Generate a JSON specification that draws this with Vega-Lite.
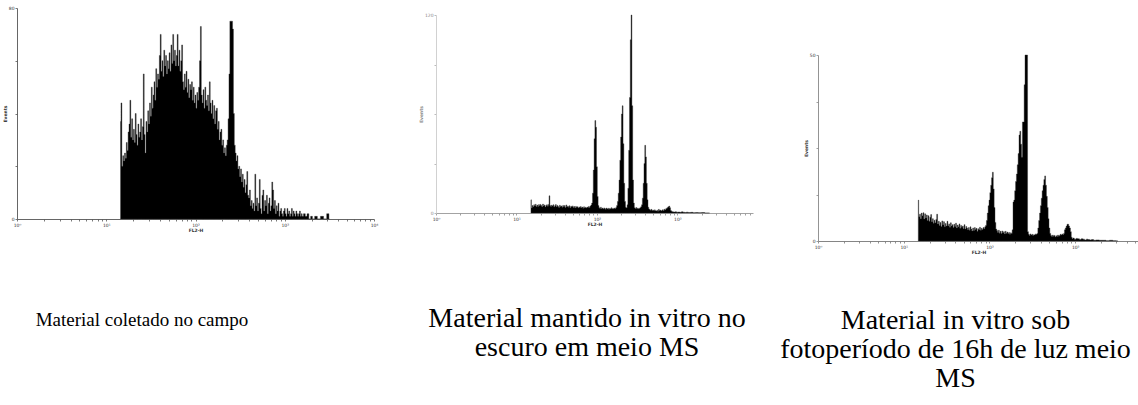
{
  "$schema": "https://vega.github.io/schema/vega-lite/v6.json",
  "background": "white",
  "padding": {"left": 2, "top": 4, "right": 0, "bottom": 0},
  "spacing": 5,
  "datasets": {
    "p1": [
      {"logFL2H":1.16,"events":37},{"logFL2H":1.17,"events":44},{"logFL2H":1.18,"events":20},{"logFL2H":1.19,"events":24},{"logFL2H":1.20,"events":22},{"logFL2H":1.21,"events":25},{"logFL2H":1.22,"events":23},{"logFL2H":1.23,"events":29},{"logFL2H":1.24,"events":26},{"logFL2H":1.25,"events":33},
      {"logFL2H":1.26,"events":36},{"logFL2H":1.27,"events":45},{"logFL2H":1.28,"events":31},{"logFL2H":1.29,"events":38},{"logFL2H":1.30,"events":30},{"logFL2H":1.31,"events":34},{"logFL2H":1.32,"events":29},{"logFL2H":1.33,"events":40},{"logFL2H":1.34,"events":32},{"logFL2H":1.35,"events":28},
      {"logFL2H":1.36,"events":36},{"logFL2H":1.37,"events":31},{"logFL2H":1.38,"events":33},{"logFL2H":1.39,"events":38},{"logFL2H":1.40,"events":30},{"logFL2H":1.41,"events":35},{"logFL2H":1.42,"events":55},{"logFL2H":1.43,"events":32},{"logFL2H":1.44,"events":25},{"logFL2H":1.45,"events":37},
      {"logFL2H":1.46,"events":33},{"logFL2H":1.47,"events":41},{"logFL2H":1.48,"events":36},{"logFL2H":1.49,"events":44},{"logFL2H":1.50,"events":39},{"logFL2H":1.51,"events":50},{"logFL2H":1.52,"events":42},{"logFL2H":1.53,"events":47},{"logFL2H":1.54,"events":52},{"logFL2H":1.55,"events":45},
      {"logFL2H":1.56,"events":57},{"logFL2H":1.57,"events":50},{"logFL2H":1.58,"events":55},{"logFL2H":1.59,"events":53},{"logFL2H":1.60,"events":62},{"logFL2H":1.61,"events":70},{"logFL2H":1.62,"events":56},{"logFL2H":1.63,"events":60},{"logFL2H":1.64,"events":54},{"logFL2H":1.65,"events":64},
      {"logFL2H":1.66,"events":58},{"logFL2H":1.67,"events":62},{"logFL2H":1.68,"events":55},{"logFL2H":1.69,"events":60},{"logFL2H":1.70,"events":57},{"logFL2H":1.71,"events":63},{"logFL2H":1.72,"events":56},{"logFL2H":1.73,"events":66},{"logFL2H":1.74,"events":59},{"logFL2H":1.75,"events":70},
      {"logFL2H":1.76,"events":60},{"logFL2H":1.77,"events":64},{"logFL2H":1.78,"events":58},{"logFL2H":1.79,"events":62},{"logFL2H":1.80,"events":70},{"logFL2H":1.81,"events":58},{"logFL2H":1.82,"events":64},{"logFL2H":1.83,"events":56},{"logFL2H":1.84,"events":60},{"logFL2H":1.85,"events":66},
      {"logFL2H":1.86,"events":52},{"logFL2H":1.87,"events":49},{"logFL2H":1.88,"events":55},{"logFL2H":1.89,"events":50},{"logFL2H":1.90,"events":56},{"logFL2H":1.91,"events":48},{"logFL2H":1.92,"events":53},{"logFL2H":1.93,"events":46},{"logFL2H":1.94,"events":51},{"logFL2H":1.95,"events":49},
      {"logFL2H":1.96,"events":52},{"logFL2H":1.97,"events":45},{"logFL2H":1.98,"events":50},{"logFL2H":1.99,"events":44},{"logFL2H":2.00,"events":47},{"logFL2H":2.01,"events":42},{"logFL2H":2.02,"events":48},{"logFL2H":2.03,"events":45},{"logFL2H":2.04,"events":50},{"logFL2H":2.05,"events":60},
      {"logFL2H":2.06,"events":73},{"logFL2H":2.07,"events":47},{"logFL2H":2.08,"events":44},{"logFL2H":2.09,"events":49},{"logFL2H":2.10,"events":42},{"logFL2H":2.11,"events":50},{"logFL2H":2.12,"events":45},{"logFL2H":2.13,"events":43},{"logFL2H":2.14,"events":47},{"logFL2H":2.15,"events":41},
      {"logFL2H":2.16,"events":52},{"logFL2H":2.17,"events":44},{"logFL2H":2.18,"events":40},{"logFL2H":2.19,"events":45},{"logFL2H":2.20,"events":38},{"logFL2H":2.21,"events":43},{"logFL2H":2.22,"events":36},{"logFL2H":2.23,"events":41},{"logFL2H":2.24,"events":42},{"logFL2H":2.25,"events":34},
      {"logFL2H":2.26,"events":37},{"logFL2H":2.27,"events":30},{"logFL2H":2.28,"events":33},{"logFL2H":2.29,"events":34},{"logFL2H":2.30,"events":28},{"logFL2H":2.31,"events":30},{"logFL2H":2.32,"events":25},{"logFL2H":2.33,"events":27},{"logFL2H":2.34,"events":24},{"logFL2H":2.35,"events":28},
      {"logFL2H":2.36,"events":30},{"logFL2H":2.37,"events":38},{"logFL2H":2.38,"events":55},{"logFL2H":2.39,"events":75},{"logFL2H":2.40,"events":75},{"logFL2H":2.41,"events":75},{"logFL2H":2.42,"events":72},{"logFL2H":2.43,"events":40},{"logFL2H":2.44,"events":28},{"logFL2H":2.45,"events":25},
      {"logFL2H":2.46,"events":22},{"logFL2H":2.47,"events":24},{"logFL2H":2.48,"events":19},{"logFL2H":2.49,"events":20},{"logFL2H":2.50,"events":16},{"logFL2H":2.51,"events":19},{"logFL2H":2.52,"events":14},{"logFL2H":2.53,"events":17},{"logFL2H":2.54,"events":12},{"logFL2H":2.55,"events":15},
      {"logFL2H":2.56,"events":10},{"logFL2H":2.57,"events":13},{"logFL2H":2.58,"events":18},{"logFL2H":2.59,"events":9},{"logFL2H":2.60,"events":8},{"logFL2H":2.61,"events":11},{"logFL2H":2.62,"events":5},{"logFL2H":2.63,"events":7},{"logFL2H":2.64,"events":4},{"logFL2H":2.65,"events":6},
      {"logFL2H":2.66,"events":3},{"logFL2H":2.67,"events":17},{"logFL2H":2.68,"events":5},{"logFL2H":2.69,"events":8},{"logFL2H":2.70,"events":3},{"logFL2H":2.71,"events":6},{"logFL2H":2.72,"events":15},{"logFL2H":2.73,"events":4},{"logFL2H":2.74,"events":2},{"logFL2H":2.75,"events":9},
      {"logFL2H":2.76,"events":11},{"logFL2H":2.77,"events":3},{"logFL2H":2.78,"events":7},{"logFL2H":2.79,"events":5},{"logFL2H":2.80,"events":9},{"logFL2H":2.81,"events":2},{"logFL2H":2.82,"events":6},{"logFL2H":2.83,"events":8},{"logFL2H":2.84,"events":3},{"logFL2H":2.85,"events":5},
      {"logFL2H":2.86,"events":14},{"logFL2H":2.87,"events":11},{"logFL2H":2.88,"events":4},{"logFL2H":2.89,"events":7},{"logFL2H":2.90,"events":2},{"logFL2H":2.91,"events":5},{"logFL2H":2.92,"events":3},{"logFL2H":2.93,"events":6},{"logFL2H":2.94,"events":1},{"logFL2H":2.95,"events":3},
      {"logFL2H":2.96,"events":4},{"logFL2H":2.97,"events":2},{"logFL2H":2.98,"events":1},{"logFL2H":2.99,"events":3},{"logFL2H":3.00,"events":4},{"logFL2H":3.01,"events":2},{"logFL2H":3.02,"events":1},{"logFL2H":3.03,"events":4},{"logFL2H":3.04,"events":2},{"logFL2H":3.05,"events":3},
      {"logFL2H":3.06,"events":1},{"logFL2H":3.07,"events":2},{"logFL2H":3.08,"events":4},{"logFL2H":3.09,"events":1},{"logFL2H":3.10,"events":3},{"logFL2H":3.11,"events":2},{"logFL2H":3.12,"events":1},{"logFL2H":3.13,"events":3},{"logFL2H":3.14,"events":2},{"logFL2H":3.15,"events":1},
      {"logFL2H":3.16,"events":2},{"logFL2H":3.17,"events":3},{"logFL2H":3.18,"events":1},{"logFL2H":3.19,"events":2},{"logFL2H":3.20,"events":1},{"logFL2H":3.22,"events":2},{"logFL2H":3.24,"events":1},{"logFL2H":3.26,"events":2},{"logFL2H":3.28,"events":0},{"logFL2H":3.30,"events":1},
      {"logFL2H":3.32,"events":0},{"logFL2H":3.35,"events":1},{"logFL2H":3.38,"events":0},{"logFL2H":3.42,"events":1},{"logFL2H":3.45,"events":0},{"logFL2H":3.49,"events":2},{"logFL2H":3.50,"events":0}
    ],
    "p2": [
      {"logFL2H":1.18,"events":8},{"logFL2H":1.19,"events":3},{"logFL2H":1.20,"events":4.5},{"logFL2H":1.21,"events":3.8},{"logFL2H":1.22,"events":5},{"logFL2H":1.23,"events":4.2},{"logFL2H":1.24,"events":5.3},{"logFL2H":1.25,"events":4},{"logFL2H":1.26,"events":4.8},{"logFL2H":1.27,"events":3.9},
      {"logFL2H":1.28,"events":5.1},{"logFL2H":1.29,"events":4.4},{"logFL2H":1.30,"events":5.2},{"logFL2H":1.31,"events":4.6},{"logFL2H":1.32,"events":3.8},{"logFL2H":1.33,"events":5.4},{"logFL2H":1.34,"events":4.3},{"logFL2H":1.35,"events":4.9},{"logFL2H":1.36,"events":3.7},{"logFL2H":1.37,"events":4.6},
      {"logFL2H":1.38,"events":5.0},{"logFL2H":1.39,"events":4.1},{"logFL2H":1.40,"events":5.2},{"logFL2H":1.41,"events":10.4},{"logFL2H":1.42,"events":4.5},{"logFL2H":1.43,"events":3.9},{"logFL2H":1.44,"events":4.8},{"logFL2H":1.45,"events":4.2},{"logFL2H":1.46,"events":5.0},{"logFL2H":1.47,"events":3.6},
      {"logFL2H":1.48,"events":4.4},{"logFL2H":1.49,"events":5.1},{"logFL2H":1.50,"events":3.8},{"logFL2H":1.51,"events":4.6},{"logFL2H":1.52,"events":4.0},{"logFL2H":1.53,"events":3.4},{"logFL2H":1.54,"events":4.7},{"logFL2H":1.55,"events":3.9},{"logFL2H":1.56,"events":4.3},{"logFL2H":1.57,"events":3.5},
      {"logFL2H":1.58,"events":4.6},{"logFL2H":1.59,"events":3.8},{"logFL2H":1.60,"events":4.5},{"logFL2H":1.61,"events":3.3},{"logFL2H":1.62,"events":4.9},{"logFL2H":1.63,"events":3.7},{"logFL2H":1.64,"events":4.2},{"logFL2H":1.65,"events":3.5},{"logFL2H":1.66,"events":4.4},{"logFL2H":1.67,"events":3.2},
      {"logFL2H":1.68,"events":4.1},{"logFL2H":1.69,"events":3.6},{"logFL2H":1.70,"events":4.3},{"logFL2H":1.71,"events":3.4},{"logFL2H":1.72,"events":3.9},{"logFL2H":1.73,"events":3.1},{"logFL2H":1.74,"events":4.0},{"logFL2H":1.75,"events":3.5},{"logFL2H":1.76,"events":3.8},{"logFL2H":1.77,"events":3.0},
      {"logFL2H":1.78,"events":3.7},{"logFL2H":1.79,"events":3.3},{"logFL2H":1.80,"events":3.9},{"logFL2H":1.81,"events":3.2},{"logFL2H":1.82,"events":3.6},{"logFL2H":1.83,"events":2.9},{"logFL2H":1.84,"events":3.8},{"logFL2H":1.85,"events":3.1},{"logFL2H":1.86,"events":3.5},{"logFL2H":1.87,"events":3.0},
      {"logFL2H":1.88,"events":3.6},{"logFL2H":1.89,"events":3.3},{"logFL2H":1.90,"events":4.0},{"logFL2H":1.91,"events":3.4},{"logFL2H":1.92,"events":4.2},{"logFL2H":1.93,"events":4.8},{"logFL2H":1.94,"events":6},{"logFL2H":1.95,"events":12},{"logFL2H":1.96,"events":26},{"logFL2H":1.97,"events":45},
      {"logFL2H":1.98,"events":56},{"logFL2H":1.99,"events":52},{"logFL2H":2.00,"events":28},{"logFL2H":2.01,"events":10},{"logFL2H":2.02,"events":4.5},{"logFL2H":2.03,"events":3.2},{"logFL2H":2.04,"events":2.8},{"logFL2H":2.05,"events":3.5},{"logFL2H":2.06,"events":2.6},{"logFL2H":2.07,"events":3.0},
      {"logFL2H":2.08,"events":2.4},{"logFL2H":2.09,"events":3.1},{"logFL2H":2.10,"events":2.7},{"logFL2H":2.11,"events":2.2},{"logFL2H":2.12,"events":3.0},{"logFL2H":2.13,"events":2.5},{"logFL2H":2.14,"events":2.9},{"logFL2H":2.15,"events":2.3},{"logFL2H":2.16,"events":2.8},{"logFL2H":2.17,"events":2.6},
      {"logFL2H":2.18,"events":3.2},{"logFL2H":2.19,"events":2.5},{"logFL2H":2.20,"events":2.9},{"logFL2H":2.21,"events":2.4},{"logFL2H":2.22,"events":3.0},{"logFL2H":2.23,"events":2.7},{"logFL2H":2.24,"events":3.4},{"logFL2H":2.25,"events":4.5},{"logFL2H":2.26,"events":7},{"logFL2H":2.27,"events":12},
      {"logFL2H":2.28,"events":20},{"logFL2H":2.29,"events":32},{"logFL2H":2.30,"events":46},{"logFL2H":2.31,"events":60},{"logFL2H":2.32,"events":65},{"logFL2H":2.33,"events":42},{"logFL2H":2.34,"events":18},{"logFL2H":2.35,"events":7},{"logFL2H":2.36,"events":3.5},{"logFL2H":2.37,"events":3.0},
      {"logFL2H":2.38,"events":5},{"logFL2H":2.39,"events":15},{"logFL2H":2.40,"events":38},{"logFL2H":2.41,"events":70},{"logFL2H":2.42,"events":105},{"logFL2H":2.43,"events":120},{"logFL2H":2.44,"events":65},{"logFL2H":2.45,"events":20},{"logFL2H":2.46,"events":6},{"logFL2H":2.47,"events":3.2},
      {"logFL2H":2.48,"events":2.8},{"logFL2H":2.49,"events":3.3},{"logFL2H":2.50,"events":2.6},{"logFL2H":2.51,"events":3.0},{"logFL2H":2.52,"events":2.5},{"logFL2H":2.53,"events":2.9},{"logFL2H":2.54,"events":3.2},{"logFL2H":2.55,"events":3.8},{"logFL2H":2.56,"events":5},{"logFL2H":2.57,"events":9},
      {"logFL2H":2.58,"events":18},{"logFL2H":2.59,"events":30},{"logFL2H":2.60,"events":41},{"logFL2H":2.61,"events":34},{"logFL2H":2.62,"events":18},{"logFL2H":2.63,"events":8},{"logFL2H":2.64,"events":3.5},{"logFL2H":2.65,"events":2.4},{"logFL2H":2.66,"events":2.0},{"logFL2H":2.67,"events":1.6},
      {"logFL2H":2.68,"events":2.2},{"logFL2H":2.69,"events":1.5},{"logFL2H":2.70,"events":1.8},{"logFL2H":2.71,"events":1.3},{"logFL2H":2.72,"events":1.9},{"logFL2H":2.73,"events":1.4},{"logFL2H":2.74,"events":1.2},{"logFL2H":2.75,"events":1.7},{"logFL2H":2.76,"events":1.1},{"logFL2H":2.77,"events":2.2},
      {"logFL2H":2.78,"events":1.5},{"logFL2H":2.79,"events":1.8},{"logFL2H":2.80,"events":1.2},{"logFL2H":2.81,"events":1.6},{"logFL2H":2.82,"events":2.0},{"logFL2H":2.83,"events":1.4},{"logFL2H":2.84,"events":2.3},{"logFL2H":2.85,"events":1.8},{"logFL2H":2.86,"events":2.6},{"logFL2H":2.87,"events":2.9},
      {"logFL2H":2.88,"events":3.4},{"logFL2H":2.89,"events":3.8},{"logFL2H":2.90,"events":4.2},{"logFL2H":2.91,"events":3.2},{"logFL2H":2.92,"events":1.5},{"logFL2H":2.93,"events":1.0},{"logFL2H":2.94,"events":0.8},{"logFL2H":2.96,"events":0.6},{"logFL2H":2.98,"events":0.7},{"logFL2H":3.00,"events":0.5},
      {"logFL2H":3.02,"events":0.6},{"logFL2H":3.04,"events":0.4},{"logFL2H":3.06,"events":0.7},{"logFL2H":3.08,"events":0.5},{"logFL2H":3.10,"events":0.3},{"logFL2H":3.12,"events":0.5},{"logFL2H":3.15,"events":0.3},{"logFL2H":3.18,"events":0.4},{"logFL2H":3.21,"events":0.2},{"logFL2H":3.24,"events":0.3},
      {"logFL2H":3.28,"events":0.2},{"logFL2H":3.32,"events":0.3},{"logFL2H":3.36,"events":0},{"logFL2H":3.40,"events":0}
    ],
    "p3": [
      {"logFL2H":1.17,"events":11},{"logFL2H":1.18,"events":6.5},{"logFL2H":1.19,"events":7.2},{"logFL2H":1.20,"events":6.0},{"logFL2H":1.21,"events":7.5},{"logFL2H":1.22,"events":6.8},{"logFL2H":1.23,"events":7.6},{"logFL2H":1.24,"events":5.9},{"logFL2H":1.25,"events":7.3},{"logFL2H":1.26,"events":6.2},
      {"logFL2H":1.27,"events":7.0},{"logFL2H":1.28,"events":5.5},{"logFL2H":1.29,"events":6.8},{"logFL2H":1.30,"events":5.3},{"logFL2H":1.31,"events":6.4},{"logFL2H":1.32,"events":7.1},{"logFL2H":1.33,"events":5.2},{"logFL2H":1.34,"events":6.0},{"logFL2H":1.35,"events":4.8},{"logFL2H":1.36,"events":5.6},
      {"logFL2H":1.37,"events":4.9},{"logFL2H":1.38,"events":5.8},{"logFL2H":1.39,"events":7.2},{"logFL2H":1.40,"events":4.6},{"logFL2H":1.41,"events":5.3},{"logFL2H":1.42,"events":4.2},{"logFL2H":1.43,"events":5.0},{"logFL2H":1.44,"events":3.9},{"logFL2H":1.45,"events":5.4},{"logFL2H":1.46,"events":4.4},
      {"logFL2H":1.47,"events":5.2},{"logFL2H":1.48,"events":3.8},{"logFL2H":1.49,"events":4.7},{"logFL2H":1.50,"events":4.0},{"logFL2H":1.51,"events":5.3},{"logFL2H":1.52,"events":4.1},{"logFL2H":1.53,"events":4.6},{"logFL2H":1.54,"events":3.7},{"logFL2H":1.55,"events":4.9},{"logFL2H":1.56,"events":4.0},
      {"logFL2H":1.57,"events":4.4},{"logFL2H":1.58,"events":3.6},{"logFL2H":1.59,"events":4.5},{"logFL2H":1.60,"events":3.9},{"logFL2H":1.61,"events":4.8},{"logFL2H":1.62,"events":3.5},{"logFL2H":1.63,"events":4.3},{"logFL2H":1.64,"events":3.8},{"logFL2H":1.65,"events":4.6},{"logFL2H":1.66,"events":3.4},
      {"logFL2H":1.67,"events":4.2},{"logFL2H":1.68,"events":3.7},{"logFL2H":1.69,"events":4.0},{"logFL2H":1.70,"events":3.3},{"logFL2H":1.71,"events":4.4},{"logFL2H":1.72,"events":3.2},{"logFL2H":1.73,"events":3.9},{"logFL2H":1.74,"events":3.5},{"logFL2H":1.75,"events":3.0},{"logFL2H":1.76,"events":3.6},
      {"logFL2H":1.77,"events":2.9},{"logFL2H":1.78,"events":3.8},{"logFL2H":1.79,"events":3.2},{"logFL2H":1.80,"events":2.7},{"logFL2H":1.81,"events":3.5},{"logFL2H":1.82,"events":2.8},{"logFL2H":1.83,"events":3.6},{"logFL2H":1.84,"events":3.1},{"logFL2H":1.85,"events":3.4},{"logFL2H":1.86,"events":2.6},
      {"logFL2H":1.87,"events":3.3},{"logFL2H":1.88,"events":3.0},{"logFL2H":1.89,"events":3.7},{"logFL2H":1.90,"events":2.9},{"logFL2H":1.91,"events":3.4},{"logFL2H":1.92,"events":3.1},{"logFL2H":1.93,"events":3.6},{"logFL2H":1.94,"events":3.3},{"logFL2H":1.95,"events":3.8},{"logFL2H":1.96,"events":4.2},
      {"logFL2H":1.97,"events":5.5},{"logFL2H":1.98,"events":7.5},{"logFL2H":1.99,"events":9.5},{"logFL2H":2.00,"events":11},{"logFL2H":2.01,"events":13},{"logFL2H":2.02,"events":15},{"logFL2H":2.03,"events":17},{"logFL2H":2.04,"events":18.5},{"logFL2H":2.05,"events":14},{"logFL2H":2.06,"events":9},
      {"logFL2H":2.07,"events":5},{"logFL2H":2.08,"events":3.2},{"logFL2H":2.09,"events":2.8},{"logFL2H":2.10,"events":2.3},{"logFL2H":2.11,"events":2.9},{"logFL2H":2.12,"events":2.1},{"logFL2H":2.13,"events":2.6},{"logFL2H":2.14,"events":2.0},{"logFL2H":2.15,"events":2.7},{"logFL2H":2.16,"events":2.2},
      {"logFL2H":2.17,"events":2.5},{"logFL2H":2.18,"events":1.9},{"logFL2H":2.19,"events":2.6},{"logFL2H":2.20,"events":2.1},{"logFL2H":2.21,"events":2.4},{"logFL2H":2.22,"events":2.0},{"logFL2H":2.23,"events":2.3},{"logFL2H":2.24,"events":1.8},{"logFL2H":2.25,"events":2.2},{"logFL2H":2.26,"events":2.0},
      {"logFL2H":2.27,"events":3.0},{"logFL2H":2.28,"events":10.5},{"logFL2H":2.29,"events":11},{"logFL2H":2.30,"events":13.5},{"logFL2H":2.31,"events":16},{"logFL2H":2.32,"events":18},{"logFL2H":2.33,"events":20.5},{"logFL2H":2.34,"events":23.5},{"logFL2H":2.35,"events":28.5},{"logFL2H":2.36,"events":29.5},
      {"logFL2H":2.37,"events":26},{"logFL2H":2.38,"events":22.5},{"logFL2H":2.39,"events":32},{"logFL2H":2.40,"events":32},{"logFL2H":2.41,"events":42},{"logFL2H":2.42,"events":50},{"logFL2H":2.43,"events":50},{"logFL2H":2.44,"events":50},{"logFL2H":2.45,"events":2.5},{"logFL2H":2.46,"events":1.8},
      {"logFL2H":2.47,"events":1.5},{"logFL2H":2.48,"events":1.9},{"logFL2H":2.49,"events":1.6},{"logFL2H":2.50,"events":1.8},{"logFL2H":2.51,"events":1.5},{"logFL2H":2.52,"events":1.7},{"logFL2H":2.53,"events":1.6},{"logFL2H":2.54,"events":1.9},{"logFL2H":2.55,"events":1.8},{"logFL2H":2.56,"events":2.0},
      {"logFL2H":2.57,"events":3.5},{"logFL2H":2.58,"events":5.5},{"logFL2H":2.59,"events":7.5},{"logFL2H":2.60,"events":9.5},{"logFL2H":2.61,"events":11.5},{"logFL2H":2.62,"events":13.5},{"logFL2H":2.63,"events":15},{"logFL2H":2.64,"events":16.5},{"logFL2H":2.65,"events":17.5},{"logFL2H":2.66,"events":15},
      {"logFL2H":2.67,"events":12},{"logFL2H":2.68,"events":9},{"logFL2H":2.69,"events":6},{"logFL2H":2.70,"events":3.5},{"logFL2H":2.71,"events":2.0},{"logFL2H":2.72,"events":1.5},{"logFL2H":2.73,"events":1.2},{"logFL2H":2.74,"events":1.6},{"logFL2H":2.75,"events":1.3},{"logFL2H":2.76,"events":1.5},
      {"logFL2H":2.77,"events":1.1},{"logFL2H":2.78,"events":1.4},{"logFL2H":2.79,"events":1.2},{"logFL2H":2.80,"events":1.6},{"logFL2H":2.81,"events":1.3},{"logFL2H":2.82,"events":1.5},{"logFL2H":2.83,"events":1.8},{"logFL2H":2.84,"events":1.6},{"logFL2H":2.85,"events":1.9},{"logFL2H":2.86,"events":1.7},
      {"logFL2H":2.87,"events":2.0},{"logFL2H":2.88,"events":3.0},{"logFL2H":2.89,"events":3.5},{"logFL2H":2.90,"events":4.0},{"logFL2H":2.91,"events":4.5},{"logFL2H":2.92,"events":4.5},{"logFL2H":2.93,"events":4.0},{"logFL2H":2.94,"events":3.5},{"logFL2H":2.95,"events":2.5},{"logFL2H":2.96,"events":1.0},
      {"logFL2H":2.97,"events":0.6},{"logFL2H":2.98,"events":0.8},{"logFL2H":3.00,"events":0.5},{"logFL2H":3.02,"events":0.7},{"logFL2H":3.04,"events":0.6},{"logFL2H":3.06,"events":0.4},{"logFL2H":3.08,"events":0.6},{"logFL2H":3.10,"events":0.5},{"logFL2H":3.12,"events":0.3},{"logFL2H":3.14,"events":0.5},
      {"logFL2H":3.16,"events":0.4},{"logFL2H":3.18,"events":0.3},{"logFL2H":3.20,"events":0.4},{"logFL2H":3.23,"events":0.2},{"logFL2H":3.26,"events":0.3},{"logFL2H":3.30,"events":0.2},{"logFL2H":3.34,"events":0.2},{"logFL2H":3.38,"events":0.1},{"logFL2H":3.42,"events":0.2},{"logFL2H":3.46,"events":0.1},
      {"logFL2H":3.50,"events":0}
    ]
  },
  "hconcat": [
    {
      "spacing": 0,
      "vconcat": [
        {"width": 396, "height": 1, "data": {"values": []}, "mark": {"type": "point"}},
        {
          "width": 357, "height": 211,
          "data": {"name": "p1"},
          "mark": {"type": "area", "interpolate": "step", "color": "black", "stroke": "#333", "strokeWidth": 0.4},
          "encoding": {
            "x": {"field": "logFL2H", "type": "quantitative", "scale": {"domain": [0, 4], "nice": false, "zero": false},
              "axis": {"title": "FL2-H", "domainColor": "#555", "tickColor": "#555",
                "values": [0,0.30103,0.47712,0.60206,0.69897,0.77815,0.8451,0.90309,0.95424,1,1.30103,1.47712,1.60206,1.69897,1.77815,1.8451,1.90309,1.95424,2,2.30103,2.47712,2.60206,2.69897,2.77815,2.8451,2.90309,2.95424,3,3.30103,3.47712,3.60206,3.69897,3.77815,3.8451,3.90309,3.95424,4],
                "labelExpr": "datum.value == 0 ? '10⁰' : datum.value == 1 ? '10¹' : datum.value == 2 ? '10²' : datum.value == 3 ? '10³' : datum.value == 4 ? '10⁴' : ''"}},
            "y": {"field": "events", "type": "quantitative", "scale": {"domain": [0, 80], "nice": false},
              "axis": {"title": "Events", "domainColor": "#555", "tickColor": "#555", "values": [0, 20, 40, 60, 80],
                "labelExpr": "datum.value == 0 || datum.value == 80 ? datum.label : ''"}}
          },
          "title": {"text": "Material coletado no campo", "dx": -53.5, "offset": 78.5, "fontSize": 19}
        }
      ]
    },
    {
      "spacing": 0,
      "vconcat": [
        {"width": 339, "height": 8, "data": {"values": []}, "mark": {"type": "point"}},
        {
          "width": 317, "height": 198,
          "data": {"name": "p2"},
          "mark": {"type": "area", "interpolate": "step", "color": "black", "stroke": "#333", "strokeWidth": 0.4},
          "encoding": {
            "x": {"field": "logFL2H", "type": "quantitative", "scale": {"domain": [0, 3.94], "nice": false, "zero": false},
              "axis": {"title": "FL2-H", "domainColor": "#999", "tickColor": "#888",
                "values": [0,0.30103,0.47712,0.60206,0.69897,0.77815,0.8451,0.90309,0.95424,1,1.30103,1.47712,1.60206,1.69897,1.77815,1.8451,1.90309,1.95424,2,2.30103,2.47712,2.60206,2.69897,2.77815,2.8451,2.90309,2.95424,3,3.30103,3.47712,3.60206,3.69897,3.77815,3.8451,3.90309],
                "labelExpr": "datum.value == 0 ? '10⁰' : datum.value == 1 ? '10¹' : datum.value == 2 ? '10²' : datum.value == 3 ? '10³' : ''"}},
            "y": {"field": "events", "type": "quantitative", "scale": {"domain": [0, 120], "nice": false},
              "axis": {"title": "Events", "domainColor": "#cccccc", "tickColor": "#aaa", "labelColor": "#888", "titleColor": "#888", "values": [0, 30, 60, 90, 120],
                "labelExpr": "datum.value == 0 || datum.value == 120 ? datum.label : ''"}}
          },
          "title": {"text": ["Material mantido in vitro no", "escuro em meio MS"], "dx": -7.5, "offset": 79, "fontSize": 28, "lineHeight": 29}
        }
      ]
    },
    {
      "spacing": 0,
      "vconcat": [
        {"width": 10, "height": 47.3, "data": {"values": []}, "mark": {"type": "point"}},
        {
          "width": 321, "height": 186,
          "data": {"name": "p3"},
          "mark": {"type": "area", "interpolate": "step", "color": "black", "stroke": "#333", "strokeWidth": 0.4},
          "encoding": {
            "x": {"field": "logFL2H", "type": "quantitative", "scale": {"domain": [0, 3.745], "nice": false, "zero": false},
              "axis": {"title": "FL2-H", "domainColor": "#777", "tickColor": "#777",
                "values": [0,0.30103,0.47712,0.60206,0.69897,0.77815,0.8451,0.90309,0.95424,1,1.30103,1.47712,1.60206,1.69897,1.77815,1.8451,1.90309,1.95424,2,2.30103,2.47712,2.60206,2.69897,2.77815,2.8451,2.90309,2.95424,3,3.30103,3.47712,3.60206,3.69897],
                "labelExpr": "datum.value == 0 ? '10⁰' : datum.value == 1 ? '10¹' : datum.value == 2 ? '10²' : datum.value == 3 ? '10³' : ''"}},
            "y": {"field": "events", "type": "quantitative", "scale": {"domain": [0, 50], "nice": false},
              "axis": {"title": "Events", "domainColor": "#888", "tickColor": "#888", "values": [0, 12.5, 25, 37.5, 50],
                "labelExpr": "datum.value == 0 || datum.value == 50 ? datum.label : ''"}}
          },
          "title": {"text": ["Material in vitro sob", "fotoperíodo de 16h de luz meio", "MS"], "dx": -23, "offset": 52.5, "fontSize": 28, "lineHeight": 29}
        }
      ]
    }
  ],
  "config": {
    "view": {"stroke": null},
    "axis": {"grid": false, "tickSize": 2, "tickWidth": 0.8, "domainWidth": 0.9, "labelFont": "DejaVu Sans", "labelFontSize": 4.5, "labelColor": "#333", "labelPadding": 1, "labelOverlap": false, "labelFlush": false,
      "titleFont": "DejaVu Sans", "titleFontSize": 4.5, "titleFontWeight": "bold", "titleColor": "#333", "titlePadding": 1},
    "title": {"orient": "bottom", "anchor": "middle", "font": "Liberation Serif", "fontSize": 20, "fontWeight": "normal", "color": "black", "lineHeight": 27, "baseline": "top"}
  }
}
